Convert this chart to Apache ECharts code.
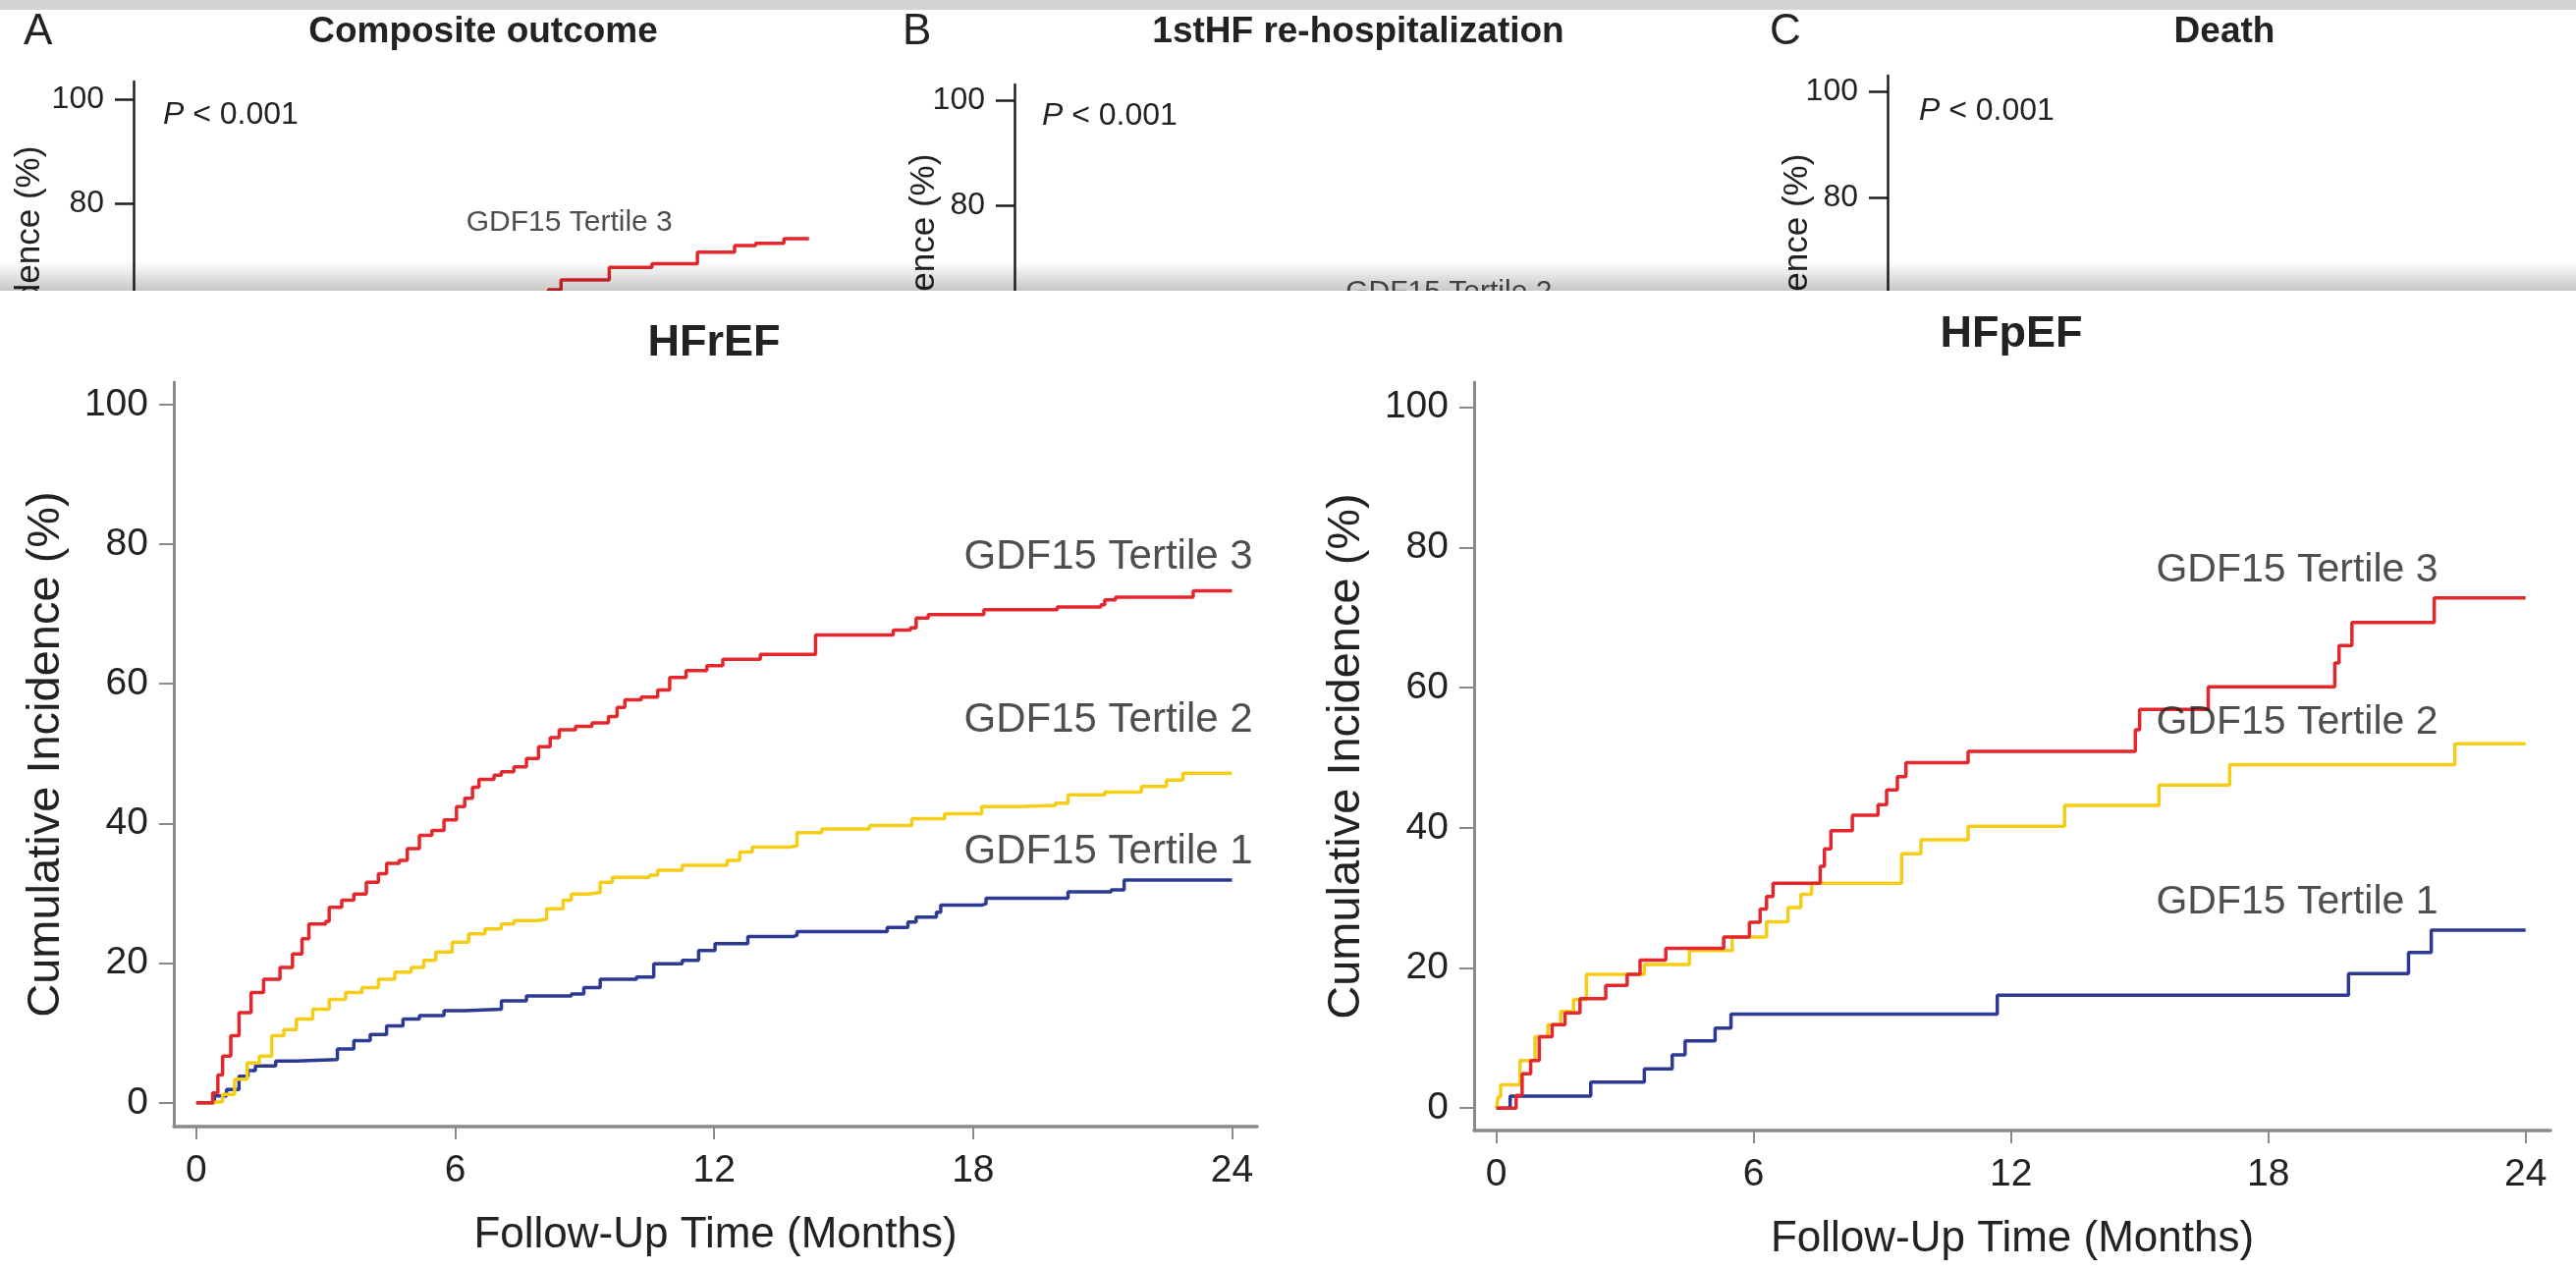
<!DOCTYPE html>
<html>
<head>
<meta charset="utf-8">
<script src="https://cdn.jsdelivr.net/npm/echarts@6/dist/echarts.min.js"></script>
<style>
  html, body { margin: 0; padding: 0; background: #ffffff; }
  #chart { width: 2623px; height: 1292px; }
</style>
</head>
<body>
<div id="chart"></div>
<script>
// ---------- Data: cumulative incidence (%) by follow-up month ----------
// Each pair is [month, cumulative incidence after the event at that month].

const hfrefTertile1 = [[0,0],[0.42,1.0],[0.7,1.9],[0.99,3.8],[1.2,4.6],[1.37,5.3],[1.84,6.0],[2.32,6.2],[3.27,7.7],[3.65,8.9],[4.03,9.8],[4.41,11.0],[4.79,12.0],[5.17,12.5],[5.74,13.2],[6.22,13.4],[7.07,14.6],[7.65,15.3],[8.69,15.6],[8.98,16.5],[9.36,17.7],[10.2,18.0],[10.6,19.9],[11.26,20.4],[11.64,21.8],[12.02,22.8],[12.78,23.8],[13.83,24.0],[13.92,24.5],[16.01,25.1],[16.49,25.9],[16.68,26.6],[17.15,27.3],[17.25,28.3],[18.2,28.5],[18.3,29.3],[20.2,30.2],[21.2,30.5],[21.5,31.9],[24,31.9]];

const hfrefTertile2 = [[0,0],[0.32,0.2],[0.61,1.2],[0.89,3.4],[1.18,5.7],[1.46,6.7],[1.75,9.6],[2.03,10.5],[2.32,12.0],[2.7,13.4],[3.08,14.8],[3.46,15.8],[3.84,16.5],[4.22,17.7],[4.6,18.7],[4.98,19.4],[5.27,20.4],[5.55,21.6],[5.93,23.0],[6.31,24.2],[6.69,24.9],[7.07,25.6],[7.36,26.1],[7.93,26.3],[8.12,27.8],[8.5,29.0],[8.69,29.9],[9.07,30.1],[9.36,31.6],[9.64,32.3],[10.5,32.6],[10.69,33.3],[11.26,34.0],[12.3,34.7],[12.59,35.9],[12.88,36.6],[13.73,36.8],[13.92,38.7],[14.49,39.2],[15.6,39.7],[16.58,40.7],[17.34,41.4],[18.2,42.4],[19.06,42.6],[19.91,42.9],[20.2,44.1],[21.05,44.5],[21.9,45.3],[22.48,46.2],[22.86,47.2],[24,47.2]];

const hfrefTertile3 = [[0,0],[0.38,1.4],[0.5,4.0],[0.61,6.7],[0.8,9.6],[0.99,12.9],[1.27,15.8],[1.56,17.7],[1.94,19.4],[2.23,21.3],[2.45,23.5],[2.61,25.6],[3.0,26.0],[3.08,28.0],[3.37,29.0],[3.65,29.9],[3.94,31.6],[4.22,32.8],[4.41,34.3],[4.7,34.7],[4.89,36.4],[5.17,38.3],[5.46,39.0],[5.74,40.5],[6.03,42.4],[6.22,43.6],[6.4,45.2],[6.55,46.3],[6.9,46.9],[7.07,47.4],[7.36,48.1],[7.65,49.3],[7.93,51.0],[8.2,52.3],[8.41,53.4],[8.79,53.9],[9.17,54.4],[9.55,55.3],[9.75,56.6],[9.93,57.7],[10.31,58.1],[10.69,59.1],[10.97,60.9],[11.35,61.9],[11.83,62.6],[12.2,63.5],[13.07,64.2],[14.35,67.0],[16.15,67.7],[16.55,68.0],[16.68,69.4],[16.96,69.9],[18.25,70.6],[19.95,71.0],[20.96,71.3],[21.05,72.0],[21.3,72.4],[23.1,73.3],[24,73.3]];

const hfpefTertile1 = [[0,0],[0.32,1.7],[2.2,3.7],[3.45,5.6],[4.1,7.6],[4.4,9.6],[5.1,11.4],[5.47,13.4],[11.68,16.1],[19.87,19.2],[21.27,22.2],[21.8,25.4],[24,25.4]];

const hfpefTertile2 = [[0,0],[0.04,1.6],[0.1,3.3],[0.55,6.8],[0.9,10.2],[1.2,11.9],[1.5,13.8],[1.8,15.5],[2.1,19.1],[3.45,20.5],[4.5,22.5],[5.5,24.4],[6.3,26.6],[6.8,28.6],[7.1,30.5],[7.35,32.1],[9.45,36.3],[9.9,38.3],[11.0,40.2],[13.25,43.2],[15.45,46.1],[17.1,49.0],[22.35,52.0],[24,52.0]];

const hfpefTertile3 = [[0,0],[0.46,1.8],[0.6,4.9],[0.8,6.8],[1.0,10.2],[1.3,11.9],[1.6,13.6],[1.95,15.6],[2.55,17.5],[3.05,19.1],[3.35,21.1],[3.95,22.8],[5.3,24.4],[5.9,26.5],[6.15,28.4],[6.3,30.2],[6.45,32.1],[7.55,34.5],[7.65,37.0],[7.8,39.6],[8.3,41.8],[8.9,43.3],[9.1,45.4],[9.35,47.3],[9.55,49.3],[11.0,50.9],[14.9,54.0],[15.0,56.9],[16.6,60.1],[19.55,63.5],[19.65,66.0],[19.95,69.3],[21.87,72.8],[24,72.8]];

// Composite outcome, top tertile (upper part of the curve)
const compositeTertile3 = [[12.5,58.0],[14.0,61.0],[14.54,63.4],[15.0,65.3],[16.75,67.7],[18.3,68.4],[19.95,70.6],[21.3,71.9],[22.06,72.3],[23.09,73.2],[24,73.2]];

// ---------- Labels and ticks ----------
const tertileNames = ['GDF15 Tertile 1', 'GDF15 Tertile 2', 'GDF15 Tertile 3'];
const panelTitles = ['HFrEF', 'HFpEF'];
const outcomeTitles = ['Composite outcome', '1stHF re-hospitalization', 'Death'];
const panelLetters = ['A', 'B', 'C'];
const pValueText = '{i|P} < 0.001';
const monthTicks = [0, 6, 12, 18, 24];
const percentTicks = [0, 20, 40, 60, 80, 100];
const upperPercentTicks = [80, 100];
const xTitle = 'Follow-Up Time (Months)';
const yTitle = 'Cumulative Incidence (%)';

// Where the tertile names sit (in axis units)
const hfrefLabelAt = [[24.48, 35.9], [24.48, 54.7], [24.48, 78.1]];
const hfpefLabelAt = [[18.67, 29.3], [18.67, 55.0], [18.67, 76.7]];

// ---------- Styling ----------
const FONT = '"Liberation Sans", Arial, Helvetica, sans-serif';
const TEXT = '#222222';
const AXIS = '#8a8a8a';
const COLORS = ['#2d3a94', '#f5cd16', '#e3272c']; // tertile 1, 2, 3

const chart = echarts.init(document.getElementById('chart'), null, { renderer: 'canvas' });

function mainX(grid) {
  return {
    type: 'value', gridIndex: grid, min: -0.52, max: 24.58, z: 5,
    axisLine: { show: true, onZero: false, lineStyle: { color: AXIS, width: 3.5 } },
    axisTick: { show: true, customValues: monthTicks, length: 13, lineStyle: { color: AXIS, width: 2 } },
    axisLabel: { show: true, customValues: monthTicks, margin: 26, fontSize: 39, color: TEXT, fontFamily: FONT },
    splitLine: { show: false },
    name: xTitle, nameLocation: 'middle', nameGap: 89,
    nameTextStyle: { fontSize: 44, color: TEXT, fontFamily: FONT }
  };
}
function mainY(grid, min, max) {
  return {
    type: 'value', gridIndex: grid, min: min, max: max, z: 5,
    axisLine: { show: true, onZero: false, lineStyle: { color: AXIS, width: 3 } },
    axisTick: { show: true, customValues: percentTicks, length: 15, lineStyle: { color: AXIS, width: 2 } },
    axisLabel: { show: true, customValues: percentTicks, margin: 26, fontSize: 39, color: TEXT, fontFamily: FONT },
    splitLine: { show: false },
    name: yTitle, nameLocation: 'middle', nameRotate: 90, nameGap: 106,
    nameTextStyle: { fontSize: 47, color: TEXT, fontFamily: FONT }
  };
}
function upperX(grid) {
  return { type: 'value', gridIndex: grid, min: -0.52, max: 24.58, show: false };
}
function upperY(grid, min, max) {
  return {
    type: 'value', gridIndex: grid, min: min, max: max, z: 1,
    axisLine: { show: true, onZero: false, lineStyle: { color: '#1e1e1e', width: 2.5 } },
    axisTick: { show: true, customValues: upperPercentTicks, length: 19, lineStyle: { color: '#1e1e1e', width: 2.5 } },
    axisLabel: { show: true, customValues: upperPercentTicks, margin: 30, fontSize: 32, color: TEXT, fontFamily: FONT },
    splitLine: { show: false }
  };
}

function curve(data, color, xi, z) {
  return {
    type: 'line', xAxisIndex: xi, yAxisIndex: xi, data: data, step: 'end',
    showSymbol: false, symbol: 'none', z: z, silent: true,
    lineStyle: { color: color, width: 3.5 }
  };
}
function nameTags(points, names, xi, position, size, z) {
  return {
    type: 'scatter', xAxisIndex: xi, yAxisIndex: xi, symbolSize: 0, silent: true, z: z,
    data: points.map((p, i) => ({ value: p, name: names[i] })),
    label: {
      show: true, position: position, distance: 0, formatter: '{b}',
      fontSize: size, color: TEXT, fontFamily: FONT
    }
  };
}

function textEl(str, x, y, style, extra) {
  return Object.assign({
    type: 'text', x: x, y: y, z: 2, silent: true,
    style: Object.assign({
      text: str, fill: TEXT, font: '40px ' + FONT, align: 'left', verticalAlign: 'middle'
    }, style || {})
  }, extra || {});
}
const pRich = { i: { fontStyle: 'italic', fontSize: 32, fontFamily: FONT, fill: TEXT } };
const sideTitle = (x, y) => textEl(yTitle, x, y,
  { font: '35px ' + FONT, align: 'center' }, { rotation: Math.PI / 2, z: 1 });

const option = {
  animation: false,
  backgroundColor: '#ffffff',
  grid: [
    { left: 177, top: 389, width: 1103, height: 758 },   // HFrEF
    { left: 1501, top: 389, width: 1096, height: 762 },  // HFpEF
    { left: 136, top: 83, width: 704, height: 518 },     // A
    { left: 1033, top: 86, width: 704, height: 516 },    // B
    { left: 1922, top: 77, width: 660, height: 535 }     // C
  ],
  xAxis: [mainX(0), mainX(1), upperX(2), upperX(3), upperX(4)],
  yAxis: [
    mainY(0, -3.4, 103.2),
    mainY(1, -3.2, 103.6),
    upperY(2, 5.66, 103.4),
    upperY(3, 6.5, 103.0),
    upperY(4, 4.1, 103.0)
  ],
  series: [
    curve(hfrefTertile1, COLORS[0], 0, 6),
    curve(hfrefTertile2, COLORS[1], 0, 6),
    curve(hfrefTertile3, COLORS[2], 0, 6),
    curve(hfpefTertile1, COLORS[0], 1, 6),
    curve(hfpefTertile2, COLORS[1], 1, 6),
    curve(hfpefTertile3, COLORS[2], 1, 6),
    curve(compositeTertile3, COLORS[2], 2, 1),
    nameTags(hfrefLabelAt, tertileNames, 0, 'left', 42, 7),
    nameTags(hfpefLabelAt, tertileNames, 1, 'inside', 41, 7),
    nameTags([[15.3, 76.2]], [tertileNames[2]], 2, 'inside', 30, 1),
    nameTags([[15.25, 63.4]], [tertileNames[1]], 3, 'inside', 30, 1)
  ],
  graphic: {
    elements: [
      // strip above the upper panels
      { type: 'rect', shape: { x: 0, y: 0, width: 2623, height: 10 }, style: { fill: '#d4d4d4' }, z: 1, silent: true },

      // rotated axis titles of the upper panels
      sideTitle(30, 348),
      sideTitle(941, 356),
      sideTitle(1830, 356),

      // sheet covering the lower part of the upper panels
      { type: 'rect', shape: { x: 0, y: 296, width: 2623, height: 996 }, style: { fill: '#ffffff' }, z: 3, silent: true },
      { type: 'rect', shape: { x: 0, y: 266, width: 2623, height: 30 }, z: 3, silent: true,
        style: { fill: new echarts.graphic.LinearGradient(0, 0, 0, 1, [
          { offset: 0, color: 'rgba(0,0,0,0)' }, { offset: 1, color: 'rgba(0,0,0,0.22)' }]) } },

      textEl(panelLetters[0], 24, 33, { font: '44px ' + FONT }),
      textEl(panelLetters[1], 919, 33, { font: '44px ' + FONT }),
      textEl(panelLetters[2], 1802, 33, { font: '44px ' + FONT }),
      textEl(outcomeTitles[0], 492, 33, { font: 'bold 37px ' + FONT, align: 'center' }),
      textEl(outcomeTitles[1], 1383, 33, { font: 'bold 37px ' + FONT, align: 'center' }),
      textEl(outcomeTitles[2], 2265, 33, { font: 'bold 37px ' + FONT, align: 'center' }),
      textEl(pValueText, 166, 117, { font: '32px ' + FONT, rich: pRich }),
      textEl(pValueText, 1061, 118, { font: '32px ' + FONT, rich: pRich }),
      textEl(pValueText, 1954, 113, { font: '32px ' + FONT, rich: pRich }),

      // panel titles, centred over each plot
      textEl(panelTitles[0], 727, 350, { font: 'bold 45px ' + FONT, align: 'center' }, { z: 7 }),
      textEl(panelTitles[1], 2048, 341, { font: 'bold 45px ' + FONT, align: 'center' }, { z: 7 })
    ]
  }
};

chart.setOption(option);
</script>
</body>
</html>
